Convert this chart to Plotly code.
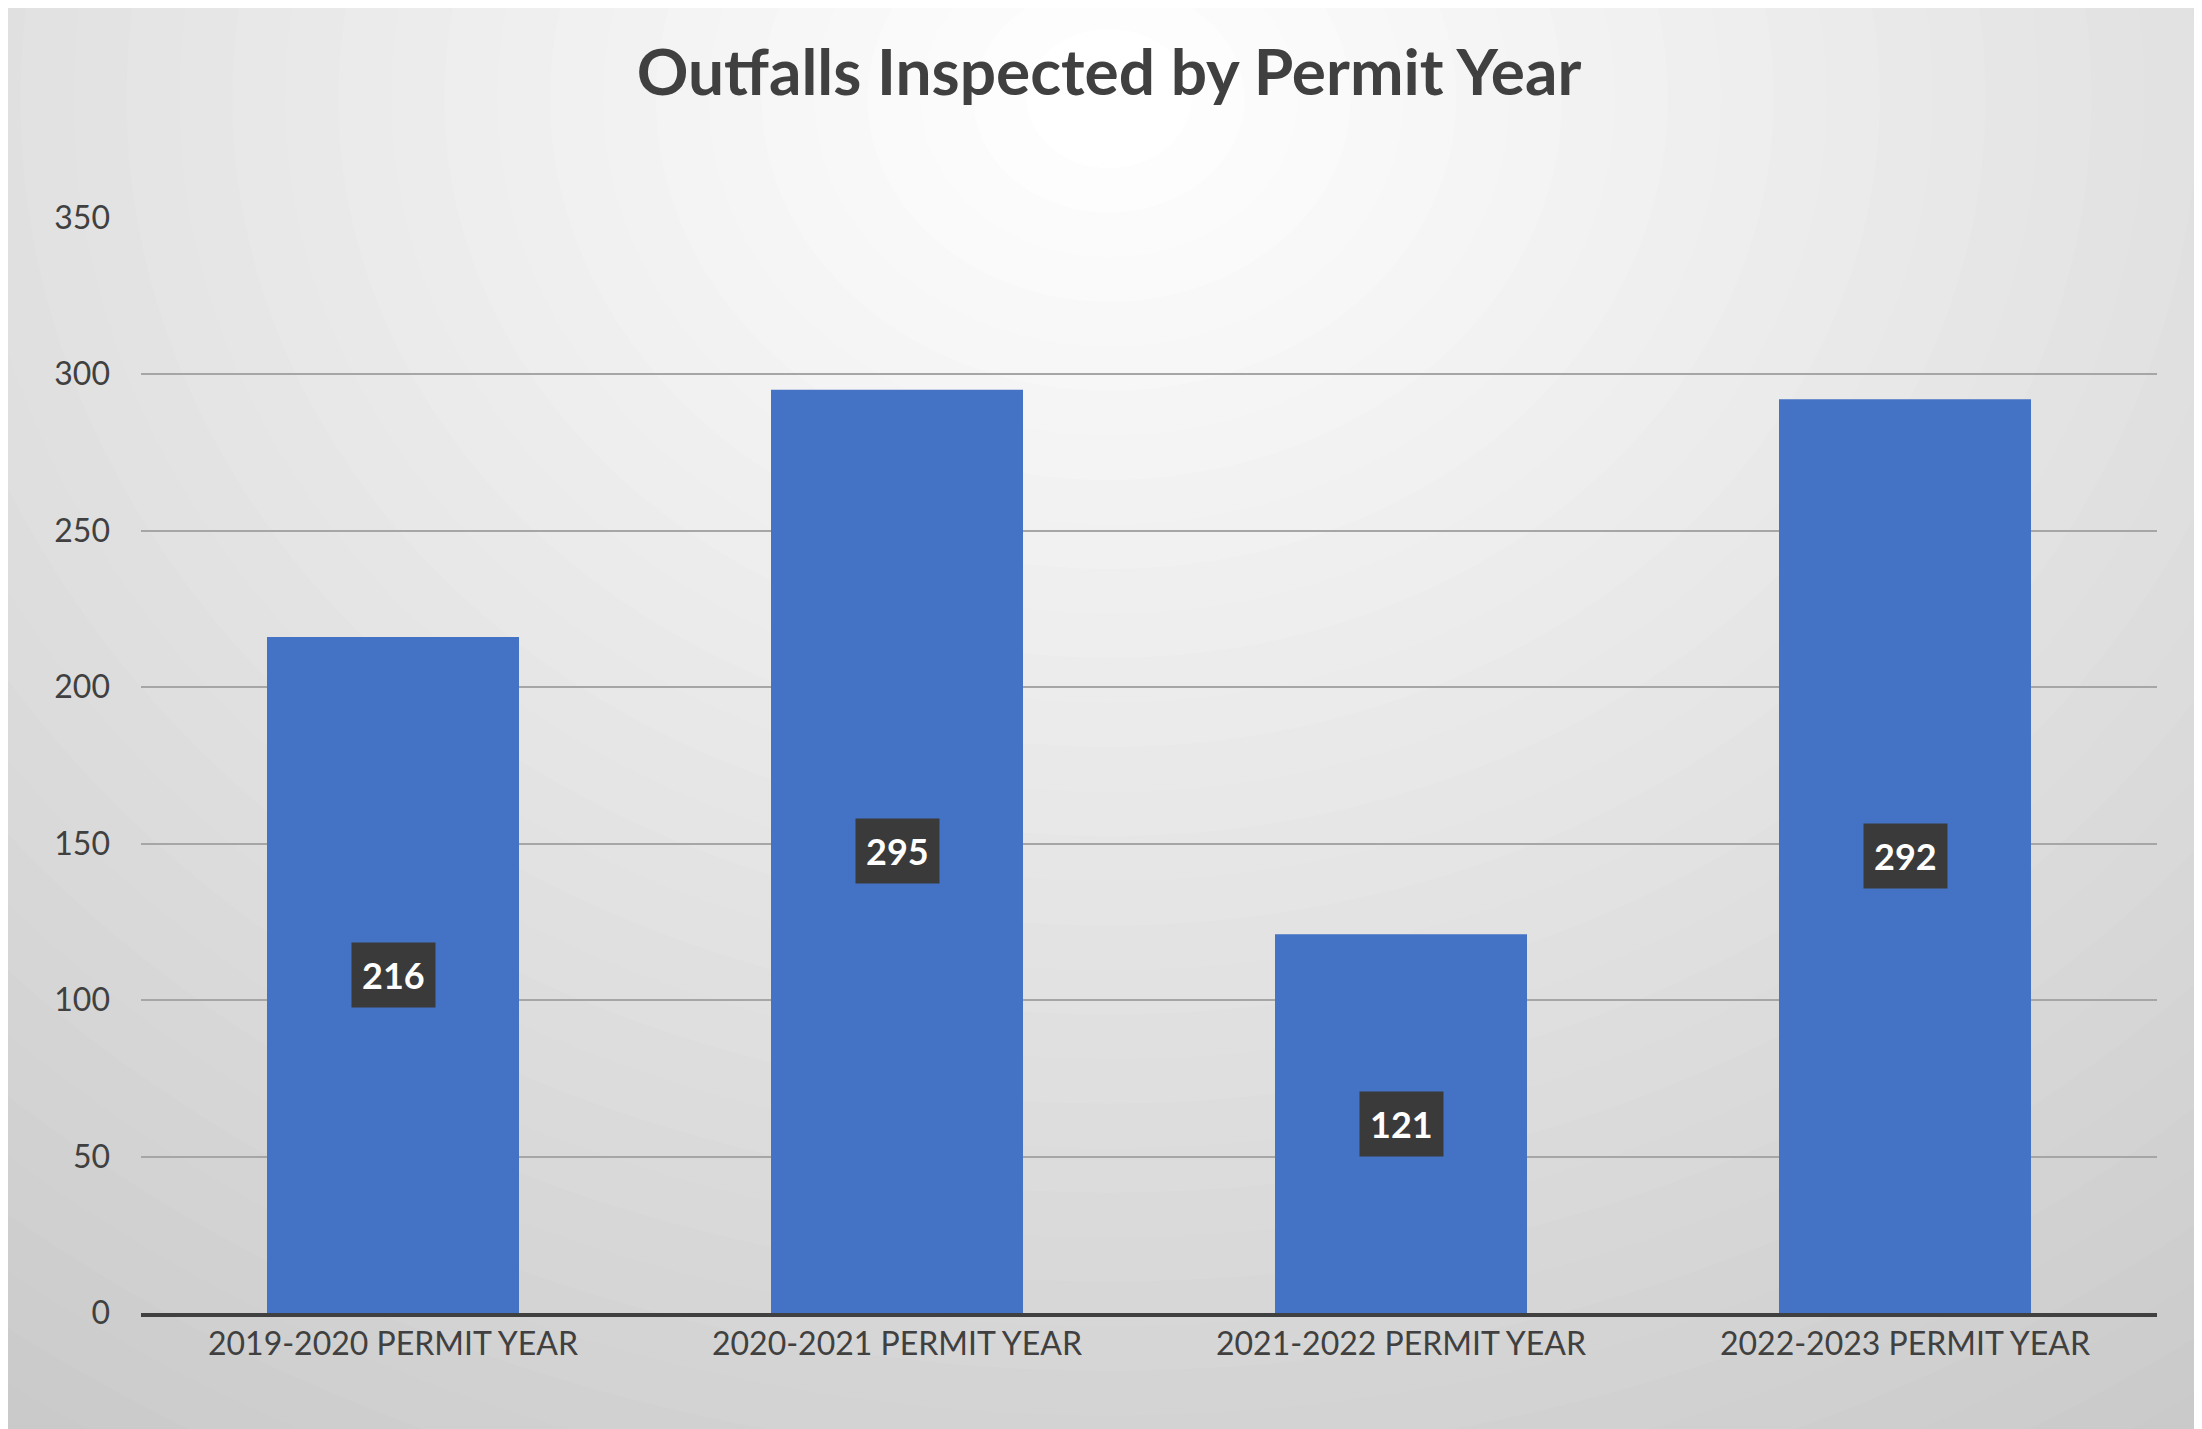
import plotly.graph_objects as go

categories = ["2019-2020 PERMIT YEAR", "2020-2021 PERMIT YEAR",
              "2021-2022 PERMIT YEAR", "2022-2023 PERMIT YEAR"]
outfalls = [216, 295, 121, 292]
y_ticks = [0, 50, 100, 150, 200, 250, 300, 350]

FONT = "Lato, Open Sans, sans-serif"
W, H = 2202, 1429

fig = go.Figure()
fig.add_trace(go.Bar(x=categories, y=outfalls, marker_color="#4472C4",
                     marker_line_width=0, width=0.5, hoverinfo="x+y"))

# value labels in dark boxes at the middle of each bar
for cat, v in zip(categories, outfalls):
    fig.add_annotation(x=cat, y=v / 2, text=f"<b>{v}</b>", showarrow=False,
                       font=dict(family=FONT, size=36, color="white"),
                       bgcolor="#3a3a3a", borderpad=10)

# radial-ish background gradient built from stacked ellipses
shapes = []
n = 40
for i in range(n):
    t = i / (n - 1)
    r = 1.25 * (1 - t) + 0.05
    c = int(196 + (255 - 196) * t)
    shapes.append(dict(type="circle", xref="paper", yref="paper", layer="below",
                       x0=0.5 - r * 0.75, x1=0.5 + r * 0.75,
                       y0=0.95 - r, y1=0.95 + r,
                       fillcolor=f"rgb({c},{c},{c})", line_width=0))
fig.update_layout(shapes=shapes)

fig.update_layout(
    width=W, height=H,
    margin=dict(l=0, r=0, t=0, b=0),
    paper_bgcolor="#c4c4c4",
    plot_bgcolor="rgba(0,0,0,0)",
    title=dict(text="<b>Outfalls Inspected by Permit Year</b>", x=0.5, y=0.955,
               xanchor="center", yanchor="middle",
               font=dict(family=FONT, size=64, color="#404040")),
    xaxis=dict(domain=[133 / W, 2149 / W], showgrid=False,
               showline=True, linecolor="#404040", linewidth=4,
               ticks="", tickfont=dict(family=FONT, size=32, color="#404040")),
    yaxis=dict(domain=[1 - 1320 / H, 1 - 194 / H], range=[0, 350],
               tickvals=y_ticks, showgrid=True, gridcolor="#a6a6a6", gridwidth=2,
               zeroline=False, ticks="", ticklabelstandoff=30,
               tickfont=dict(family=FONT, size=32, color="#404040")),
    showlegend=False,
)

fig.write_html("out.html")
